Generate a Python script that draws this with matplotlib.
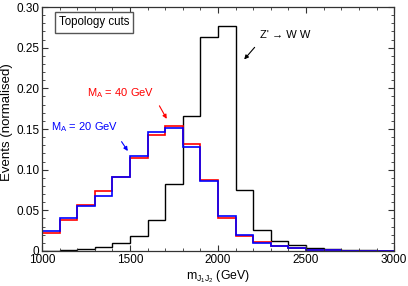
import numpy as np
import matplotlib
matplotlib.use('Agg')
import matplotlib.pyplot as plt
from matplotlib.ticker import MultipleLocator

plt.rcParams['font.family'] = ['Liberation Sans', 'DejaVu Sans']
plt.rcParams['mathtext.fontset'] = 'custom'
plt.rcParams['mathtext.rm'] = 'Liberation Sans'
plt.rcParams['mathtext.it'] = 'Liberation Sans'
plt.rcParams['mathtext.bf'] = 'Liberation Sans:bold'

# dijet mass bins (GeV)
bin_edges = np.arange(1000, 3001, 100)

# normalised event fractions per bin
zprime_ww = [0.0004, 0.0012, 0.0030, 0.0045, 0.0100, 0.0190, 0.0380, 0.0820,
             0.1660, 0.2630, 0.2770, 0.0746, 0.0254, 0.0123, 0.0068, 0.0037,
             0.0025, 0.0017, 0.0010, 0.0005]
ma_40 = [0.0225, 0.0380, 0.0560, 0.0740, 0.0910, 0.1144, 0.1427, 0.1542,
         0.1316, 0.0878, 0.0402, 0.0189, 0.0107, 0.0060, 0.0038, 0.0018,
         0.0009, 0.0005, 0.0003, 0.0001]
ma_20 = [0.0246, 0.0400, 0.0550, 0.0680, 0.0910, 0.1173, 0.1460, 0.1517,
         0.1279, 0.0861, 0.0430, 0.0201, 0.0095, 0.0062, 0.0037, 0.0017,
         0.0008, 0.0005, 0.0003, 0.0001]

fig = plt.figure(figsize=(4.08, 2.86), dpi=100)
ax = fig.add_axes([0.103, 0.1224, 0.863, 0.853])

ax.stairs(zprime_ww, bin_edges, color='black', lw=1.0, baseline=None)
ax.stairs(ma_40, bin_edges, color='#ff0000', lw=1.2, baseline=None)
ax.stairs(ma_20, bin_edges, color='#0000ff', lw=1.2, baseline=None)

ax.set_xlim(1000, 3000)
ax.set_ylim(0, 0.30)
ax.xaxis.set_major_locator(MultipleLocator(500))
ax.xaxis.set_minor_locator(MultipleLocator(100))
ax.yaxis.set_minor_locator(MultipleLocator(0.01))
ax.set_yticks([0, 0.05, 0.10, 0.15, 0.20, 0.25, 0.30])
ax.set_yticklabels(['0', '0.05', '0.10', '0.15', '0.20', '0.25', '0.30'])
ax.tick_params(which='both', direction='in', top=True, right=True,
               labelsize=8.5, color='#333333', pad=2)
ax.tick_params(which='major', length=4)
ax.tick_params(which='minor', length=2.2)
for s in ax.spines.values():
    s.set_color('#333333')
    s.set_linewidth(0.9)

ax.set_xlabel(r'$\mathrm{m}_{\mathrm{J_1J_2}}$ (GeV)', fontsize=8.8, labelpad=2)
ax.set_ylabel('Events (normalised)', fontsize=9.5)
ax.yaxis.set_label_coords(-0.083, 0.53)

ax.text(1295, 0.281, 'Topology cuts', fontsize=8.3, ha='center',
        va='center', bbox=dict(boxstyle='square,pad=0.35', fc='white',
                               ec='#555555', lw=1.0))

ax.text(2239, 0.266, "Z' \u2192 W W", fontsize=8, ha='left', va='center')
ax.annotate('', xy=(2138, 0.233), xytext=(2218, 0.253),
            arrowprops=dict(arrowstyle='-|>', color='black', lw=0.8,
                            mutation_scale=6))

ax.text(1257, 0.1906, r'M$_\mathrm{A}$ = 40 GeV', fontsize=8, color='#ff0000',
        ha='left', va='baseline')
ax.annotate('', xy=(1716, 0.1595), xytext=(1659, 0.1815),
            arrowprops=dict(arrowstyle='-|>', color='#ff0000', lw=0.8,
                            mutation_scale=6))

ax.text(1049, 0.1484, r'M$_\mathrm{A}$ = 20 GeV', fontsize=8, color='#0000ff',
        ha='left', va='baseline')
ax.annotate('', xy=(1496, 0.1201), xytext=(1443, 0.1373),
            arrowprops=dict(arrowstyle='-|>', color='#0000ff', lw=0.8,
                            mutation_scale=6))

fig.savefig('out.png', dpi=100)
